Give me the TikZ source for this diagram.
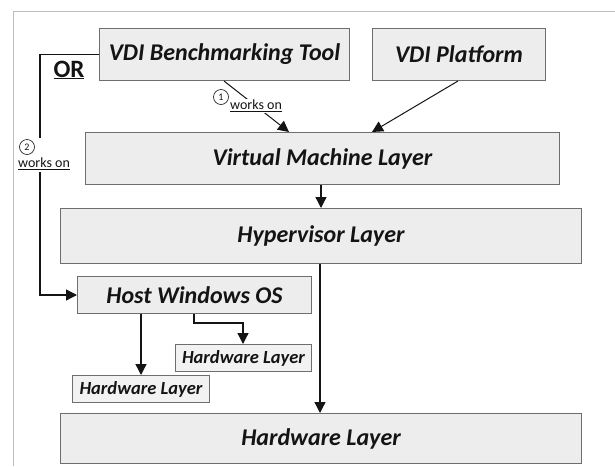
\documentclass[tikz,border=0pt]{standalone}
\usepackage{fontspec}
\setmainfont{Carlito}
\usetikzlibrary{arrows.meta}
\definecolor{boxfill}{HTML}{EDEDED}
\definecolor{smallfill}{HTML}{F2F2F2}
\definecolor{boxline}{HTML}{6E6E6E}
\definecolor{framec}{HTML}{BDBDBD}
\definecolor{ink}{HTML}{141414}
\begin{document}
\begin{tikzpicture}[x=1pt,y=-1pt,
  box/.style={draw=boxline, fill=boxfill, line width=1pt, inner sep=0pt, anchor=north west,
    text=ink, font=\bfseries\itshape\fontsize{24}{28}\selectfont},
  smallbox/.style={box, fill=smallfill, font=\bfseries\itshape\fontsize{18.5}{20}\selectfont},
  arr/.style={draw=ink, line width=1.3pt, -{Triangle[length=11pt,width=11pt]}},
  thinarr/.style={draw=ink, line width=1pt, -{Triangle[length=11pt,width=11pt]}},
  lab/.style={fill=white, inner sep=1pt, text=ink, font=\fontsize{14}{16}\selectfont},
  num/.style={draw=ink, circle, line width=0.6pt, inner sep=0pt, minimum size=15pt, text=ink,
    font=\fontsize{10}{11}\selectfont}]
\useasboundingbox (0,0) rectangle (615,466);
\coordinate (fr1) at (615,11);
\coordinate (fr2) at (13,11);
\coordinate (fr3) at (13,466);
\draw[framec, line width=1pt] (fr1) -- (fr2) -- (fr3);

\node[box, minimum width=250pt, minimum height=52pt] (bench) at (99,28) {VDI Benchmarking Tool};
\node[box, minimum width=173pt, minimum height=52pt] (plat) at (372,28) {VDI Platform};
\node[box, minimum width=474pt, minimum height=52pt] (vm) at (85,132) {Virtual Machine Layer};
\node[box, minimum width=521pt, minimum height=55pt] (hyp) at (60,208) {Hypervisor Layer};
\node[box, minimum width=234pt, minimum height=37pt] (host) at (77,276) {Host Windows OS};
\node[smallbox, minimum width=136pt, minimum height=27pt] (hwR) at (175,344) {Hardware Layer};
\node[smallbox, minimum width=137pt, minimum height=27pt] (hwL) at (72,375) {Hardware Layer};
\node[box, minimum width=521pt, minimum height=50pt] (hw) at (60,413) {Hardware Layer};

\node[text=ink, font=\bfseries\fontsize{25}{28}\selectfont, inner sep=0pt] (or) at (69,70) {\underline{OR}};

\draw[thinarr] (224,0 |- bench.south) -- (289,0 |- vm.north);
\draw[thinarr] (458,0 |- plat.south) -- (372,0 |- vm.north);
\draw[arr] (321,0 |- vm.south) -- (321,0 |- hyp.north);
\draw[arr] (320,0 |- hyp.south) -- (320,0 |- hw.north);
\draw[arr] (141,0 |- host.south) -- (141,0 |- hwL.north);
\coordinate (b1) at (194,323);
\coordinate (b2) at (243,323);
\draw[arr] (194,0 |- host.south) -- (b1) -- (b2) -- (243,0 |- hwR.north);
\coordinate (o1) at (40,0 |- bench.west);
\coordinate (o2) at (40,0 |- host.west);
\draw[arr] (bench.west) -- (o1) -- (o2) -- (host.west);

\node[lab] (w1) at (256,106) {\underline{works on}};
\node[num] (n1) at (221,97) {1};
\node[fill=white, inner sep=0pt, minimum width=20pt, minimum height=34pt] (gap2) at (40,155) {};
\node[lab, fill=none] (w2) at (44,164) {\underline{works on}};
\node[num] (n2) at (27,147) {2};
\end{tikzpicture}
\end{document}
